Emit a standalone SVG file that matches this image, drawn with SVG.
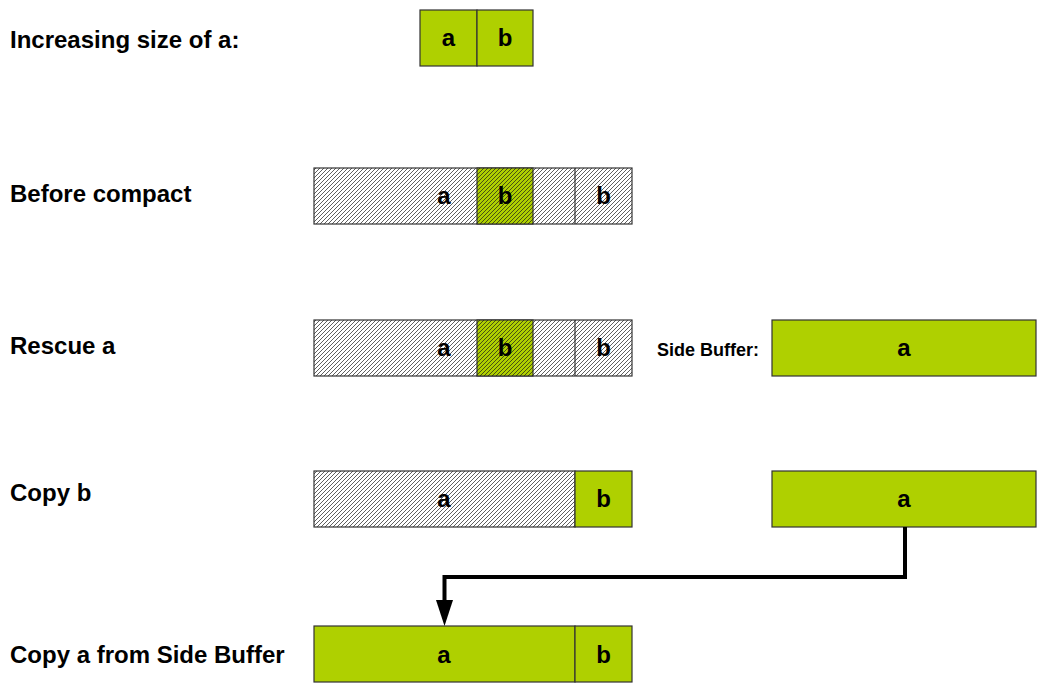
<svg xmlns="http://www.w3.org/2000/svg" width="1038" height="684" viewBox="0 0 1038 684">
<style>
.lbl{font-family:"Liberation Sans",Arial,sans-serif;font-weight:bold;font-size:24px;fill:#000}
.small{font-size:18px}
.cell{font-family:"Liberation Sans",Arial,sans-serif;font-weight:bold;font-size:24px;fill:#000;text-anchor:middle}
.g{fill:#afd000;stroke:#333;stroke-width:1.2}
.h{fill:url(#hatch);stroke:#333;stroke-width:1.2}
.conn{fill:none;stroke:#000;stroke-width:4}
</style>
<defs>
<pattern id="hatch" patternUnits="userSpaceOnUse" width="4" height="4">
<path d="M-1,1 L1,-1 M0,4 L4,0 M3,5 L5,3" stroke="#1a1a1a" stroke-width="0.7"/>
</pattern>
</defs>
<rect width="1038" height="684" fill="#fff"/>

<g id="labels">
<text class="lbl" x="10" y="48">Increasing size of a:</text>
<text class="lbl" x="10" y="202">Before compact</text>
<text class="lbl" x="10" y="354">Rescue a</text>
<text class="lbl" x="10" y="501">Copy b</text>
<text class="lbl" x="10" y="663">Copy a from Side Buffer</text>
<text class="lbl small" x="657" y="356">Side Buffer:</text>
</g>

<g id="row1">
<rect class="g" x="420" y="10" width="57" height="56"/>
<rect class="g" x="477" y="10" width="56" height="56"/>
<text class="cell" x="448.5" y="46">a</text>
<text class="cell" x="505" y="46">b</text>
</g>

<g id="row2">
<rect class="h" x="314" y="168" width="318" height="56"/>
<rect class="g" x="477" y="168" width="56" height="56"/>
<rect fill="url(#hatch)" x="477" y="168" width="56" height="56"/>
<line x1="575" y1="168" x2="575" y2="224" stroke="#333" stroke-width="1.2"/>
<text class="cell" x="444" y="204">a</text>
<text class="cell" x="505" y="204">b</text>
<text class="cell" x="603.5" y="204">b</text>
</g>

<g id="row3">
<rect class="h" x="314" y="320" width="318" height="56"/>
<rect class="g" x="477" y="320" width="56" height="56"/>
<rect fill="url(#hatch)" x="477" y="320" width="56" height="56"/>
<line x1="575" y1="320" x2="575" y2="376" stroke="#333" stroke-width="1.2"/>
<text class="cell" x="444" y="356">a</text>
<text class="cell" x="505" y="356">b</text>
<text class="cell" x="603.5" y="356">b</text>
</g>

<g id="sidebuffer1">
<rect class="g" x="772" y="320" width="264" height="56"/>
<text class="cell" x="904" y="356">a</text>
</g>

<g id="row4">
<rect class="h" x="314" y="471" width="261" height="56"/>
<rect class="g" x="575" y="471" width="57" height="56"/>
<text class="cell" x="444" y="507">a</text>
<text class="cell" x="603.5" y="507">b</text>
</g>

<g id="sidebuffer2">
<rect class="g" x="772" y="471" width="264" height="56"/>
<text class="cell" x="904" y="507">a</text>
</g>

<g id="row5">
<rect class="g" x="314" y="626" width="261" height="56"/>
<rect class="g" x="575" y="626" width="57" height="56"/>
<text class="cell" x="444" y="663">a</text>
<text class="cell" x="603.5" y="663">b</text>
</g>

<g id="connectors">
<path class="conn" d="M905,527 V577 H444.5 V601" stroke-linejoin="miter"/>
<path d="M436,600 L453,600 L444.5,626 Z" fill="#000"/>
</g>
</svg>
